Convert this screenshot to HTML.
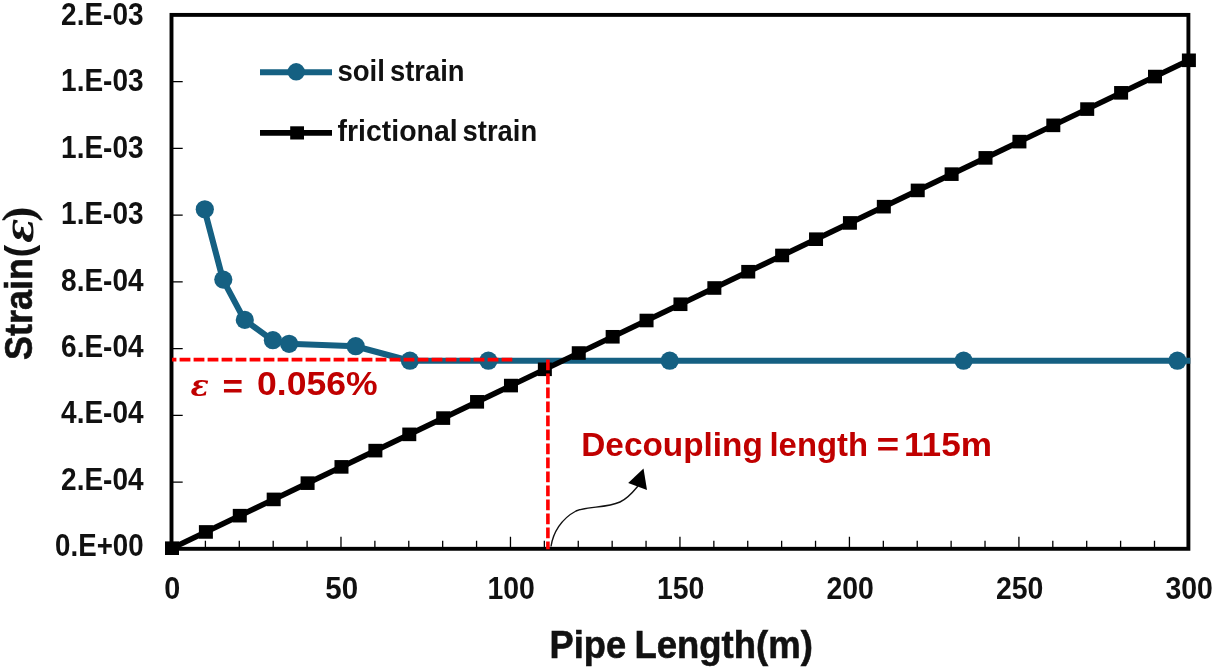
<!DOCTYPE html>
<html lang="en"><head><meta charset="utf-8"><title>Strain vs Pipe Length</title>
<style>html,body{margin:0;padding:0;background:#fff;}body{width:1215px;height:669px;overflow:hidden;}svg{display:block;}text{font-family:"Liberation Sans",sans-serif;font-weight:bold;fill:#111;}.dj{font-family:"DejaVu Sans","Liberation Sans",sans-serif;}</style></head><body>
<svg width="1215" height="669" viewBox="0 0 1215 669">
<rect width="1215" height="669" fill="#fff"/>
<path d="M171.50 548.80V536.80M205.40 548.80V540.80M239.29 548.80V540.80M273.19 548.80V540.80M307.09 548.80V540.80M340.98 548.80V536.80M374.88 548.80V540.80M408.78 548.80V540.80M442.67 548.80V540.80M476.57 548.80V540.80M510.47 548.80V536.80M544.36 548.80V540.80M578.26 548.80V540.80M612.16 548.80V540.80M646.05 548.80V540.80M679.95 548.80V536.80M713.85 548.80V540.80M747.74 548.80V540.80M781.64 548.80V540.80M815.54 548.80V540.80M849.43 548.80V536.80M883.33 548.80V540.80M917.23 548.80V540.80M951.12 548.80V540.80M985.02 548.80V540.80M1018.92 548.80V536.80M1052.81 548.80V540.80M1086.71 548.80V540.80M1120.61 548.80V540.80M1154.50 548.80V540.80M1188.40 548.80V536.80M171.50 548.80H182.70M171.50 482.06H182.70M171.50 415.32H182.70M171.50 348.59H182.70M171.50 281.85H182.70M171.50 215.11H182.70M171.50 148.38H182.70M171.50 81.64H182.70M171.50 14.90H182.70" stroke="#000" stroke-width="1.3" fill="none"/>
<rect x="171.50" y="14.90" width="1016.90" height="533.90" fill="none" stroke="#000" stroke-width="3.9"/>
<g clip-path="url(#pc)">
<polyline points="204.4,209.3 222.9,279.6 244.4,319.9 272.5,340.2 288.7,343.8 355.3,346.2 409.5,360.7 488.0,360.7 669.3,360.7 963.2,360.7 1177.0,360.7 1192.0,360.7" fill="none" stroke="#156082" stroke-width="6.1" stroke-linejoin="round" stroke-linecap="round"/>
</g>
<defs><clipPath id="pc"><rect x="171.50" y="0" width="1018.80" height="669"/></clipPath></defs>
<circle cx="204.8" cy="209.3" r="9.1" fill="#156082"/>
<circle cx="223.3" cy="279.6" r="9.1" fill="#156082"/>
<circle cx="244.8" cy="319.9" r="9.1" fill="#156082"/>
<circle cx="272.9" cy="340.2" r="9.1" fill="#156082"/>
<circle cx="289.1" cy="343.8" r="9.1" fill="#156082"/>
<circle cx="355.7" cy="346.2" r="9.1" fill="#156082"/>
<circle cx="409.9" cy="360.7" r="9.1" fill="#156082"/>
<circle cx="488.4" cy="360.7" r="9.1" fill="#156082"/>
<circle cx="669.7" cy="360.7" r="9.1" fill="#156082"/>
<circle cx="963.6" cy="360.7" r="9.1" fill="#156082"/>
<circle cx="1177.4" cy="360.7" r="9.1" fill="#156082"/>
<line x1="172.00" y1="548.20" x2="1188.90" y2="60.30" stroke="#000" stroke-width="5.6"/>
<rect x="165.00" y="541.40" width="14" height="13.6" fill="#000"/>
<rect x="198.90" y="525.14" width="14" height="13.6" fill="#000"/>
<rect x="232.79" y="508.87" width="14" height="13.6" fill="#000"/>
<rect x="266.69" y="492.61" width="14" height="13.6" fill="#000"/>
<rect x="300.59" y="476.35" width="14" height="13.6" fill="#000"/>
<rect x="334.48" y="460.08" width="14" height="13.6" fill="#000"/>
<rect x="368.38" y="443.82" width="14" height="13.6" fill="#000"/>
<rect x="402.28" y="427.56" width="14" height="13.6" fill="#000"/>
<rect x="436.17" y="411.29" width="14" height="13.6" fill="#000"/>
<rect x="470.07" y="395.03" width="14" height="13.6" fill="#000"/>
<rect x="503.97" y="378.77" width="14" height="13.6" fill="#000"/>
<rect x="537.86" y="362.50" width="14" height="13.6" fill="#000"/>
<rect x="571.76" y="346.24" width="14" height="13.6" fill="#000"/>
<rect x="605.66" y="329.98" width="14" height="13.6" fill="#000"/>
<rect x="639.55" y="313.71" width="14" height="13.6" fill="#000"/>
<rect x="673.45" y="297.45" width="14" height="13.6" fill="#000"/>
<rect x="707.35" y="281.19" width="14" height="13.6" fill="#000"/>
<rect x="741.24" y="264.92" width="14" height="13.6" fill="#000"/>
<rect x="775.14" y="248.66" width="14" height="13.6" fill="#000"/>
<rect x="809.04" y="232.40" width="14" height="13.6" fill="#000"/>
<rect x="842.93" y="216.13" width="14" height="13.6" fill="#000"/>
<rect x="876.83" y="199.87" width="14" height="13.6" fill="#000"/>
<rect x="910.73" y="183.61" width="14" height="13.6" fill="#000"/>
<rect x="944.62" y="167.34" width="14" height="13.6" fill="#000"/>
<rect x="978.52" y="151.08" width="14" height="13.6" fill="#000"/>
<rect x="1012.42" y="134.82" width="14" height="13.6" fill="#000"/>
<rect x="1046.31" y="118.55" width="14" height="13.6" fill="#000"/>
<rect x="1080.21" y="102.29" width="14" height="13.6" fill="#000"/>
<rect x="1114.11" y="86.03" width="14" height="13.6" fill="#000"/>
<rect x="1148.00" y="69.76" width="14" height="13.6" fill="#000"/>
<rect x="1181.90" y="53.50" width="14" height="13.6" fill="#000"/>
<path d="M172 359.6H512.3" stroke="#ff0000" stroke-width="3.6" stroke-dasharray="10.8 3.2" stroke-dashoffset="6.4" fill="none"/>
<path d="M547.9 359.5V549.2" stroke="#ff0000" stroke-width="3.6" stroke-dasharray="10.8 3.2" fill="none"/>
<path d="M551 546.5C553 533 561 519 576 511C588 506 606 508.2 620 502C628 498.5 633 492 638 486" stroke="#111" stroke-width="1.4" fill="none"/>
<path d="M643.5 468.4L628.2 482.9L647 490Z" fill="#000"/>
<line x1="260" y1="72.3" x2="332" y2="72.3" stroke="#156082" stroke-width="6.1"/>
<circle cx="296.2" cy="71.8" r="8.7" fill="#156082"/>
<line x1="260" y1="132.8" x2="332" y2="132.8" stroke="#000" stroke-width="5.8"/>
<rect x="290.2" y="126.3" width="13.8" height="13.2" fill="#000"/>
<text y="80.8" font-size="30.2"><tspan x="337.4" textLength="47.5" lengthAdjust="spacingAndGlyphs">soil</tspan> <tspan x="390" textLength="74.6" lengthAdjust="spacingAndGlyphs">strain</tspan></text>
<text y="141.2" font-size="30.2"><tspan x="337.6" textLength="120" lengthAdjust="spacingAndGlyphs">frictional</tspan> <tspan x="462.6" textLength="74.6" lengthAdjust="spacingAndGlyphs">strain</tspan></text>
<text x="143.6" y="556.30" font-size="30.5" text-anchor="end" textLength="88.5" lengthAdjust="spacingAndGlyphs">0.E+00</text>
<text x="143.6" y="489.88" font-size="30.5" text-anchor="end" textLength="82.5" lengthAdjust="spacingAndGlyphs">2.E-04</text>
<text x="143.6" y="423.46" font-size="30.5" text-anchor="end" textLength="82.5" lengthAdjust="spacingAndGlyphs">4.E-04</text>
<text x="143.6" y="357.04" font-size="30.5" text-anchor="end" textLength="82.5" lengthAdjust="spacingAndGlyphs">6.E-04</text>
<text x="143.6" y="290.62" font-size="30.5" text-anchor="end" textLength="82.5" lengthAdjust="spacingAndGlyphs">8.E-04</text>
<text x="143.6" y="224.20" font-size="30.5" text-anchor="end" textLength="82.5" lengthAdjust="spacingAndGlyphs">1.E-03</text>
<text x="143.6" y="157.78" font-size="30.5" text-anchor="end" textLength="82.5" lengthAdjust="spacingAndGlyphs">1.E-03</text>
<text x="143.6" y="91.36" font-size="30.5" text-anchor="end" textLength="82.5" lengthAdjust="spacingAndGlyphs">1.E-03</text>
<text x="143.6" y="24.94" font-size="30.5" text-anchor="end" textLength="82.5" lengthAdjust="spacingAndGlyphs">2.E-03</text>
<text x="172.20" y="599.3" font-size="30.5" text-anchor="middle" textLength="16.0" lengthAdjust="spacingAndGlyphs">0</text>
<text x="341.68" y="599.3" font-size="30.5" text-anchor="middle" textLength="32.8" lengthAdjust="spacingAndGlyphs">50</text>
<text x="511.17" y="599.3" font-size="30.5" text-anchor="middle" textLength="47.4" lengthAdjust="spacingAndGlyphs">100</text>
<text x="680.65" y="599.3" font-size="30.5" text-anchor="middle" textLength="47.4" lengthAdjust="spacingAndGlyphs">150</text>
<text x="850.13" y="599.3" font-size="30.5" text-anchor="middle" textLength="47.4" lengthAdjust="spacingAndGlyphs">200</text>
<text x="1019.62" y="599.3" font-size="30.5" text-anchor="middle" textLength="47.4" lengthAdjust="spacingAndGlyphs">250</text>
<text x="1189.10" y="599.3" font-size="30.5" text-anchor="middle" textLength="47.4" lengthAdjust="spacingAndGlyphs">300</text>
<text y="658" font-size="38.5" style="stroke:#111;stroke-width:0.6"><tspan x="549.6" textLength="76.5" lengthAdjust="spacingAndGlyphs">Pipe</tspan> <tspan x="634.4" textLength="178.5" lengthAdjust="spacingAndGlyphs">Length(m)</tspan></text>
<g transform="translate(32,360) rotate(-90)"><text x="0" y="0" font-size="38.5" textLength="102" lengthAdjust="spacingAndGlyphs" style="stroke:#111;stroke-width:0.6">Strain</text><text x="102.5" y="0" font-size="38.5">(</text><text x="117" y="1" font-size="40" font-style="italic" style="font-family:'DejaVu Serif','Liberation Serif',serif">ε</text><text x="138.5" y="0.5" font-size="44" font-weight="normal" style="font-family:'Liberation Serif',serif;stroke:#111;stroke-width:0.3">)</text></g>
<text x="190.5" y="395.5" font-size="30" font-style="italic" style="fill:#c00000;font-family:'DejaVu Serif','Liberation Serif',serif">ε</text>
<text x="222.5" y="397.6" font-size="34" style="fill:#c00000" textLength="20.5" lengthAdjust="spacingAndGlyphs">=</text>
<text x="257" y="395.4" font-size="33.5" style="fill:#c00000" textLength="120.5" lengthAdjust="spacingAndGlyphs">0.056%</text>
<text y="456.2" font-size="33" style="fill:#c00000"><tspan x="581.3" textLength="181.5" lengthAdjust="spacingAndGlyphs">Decoupling</tspan> <tspan x="769.5" textLength="98.5" lengthAdjust="spacingAndGlyphs">length</tspan> <tspan x="876.6" textLength="22.7" lengthAdjust="spacingAndGlyphs">=</tspan> <tspan x="904" textLength="88" lengthAdjust="spacingAndGlyphs">115m</tspan></text>
</svg></body></html>
